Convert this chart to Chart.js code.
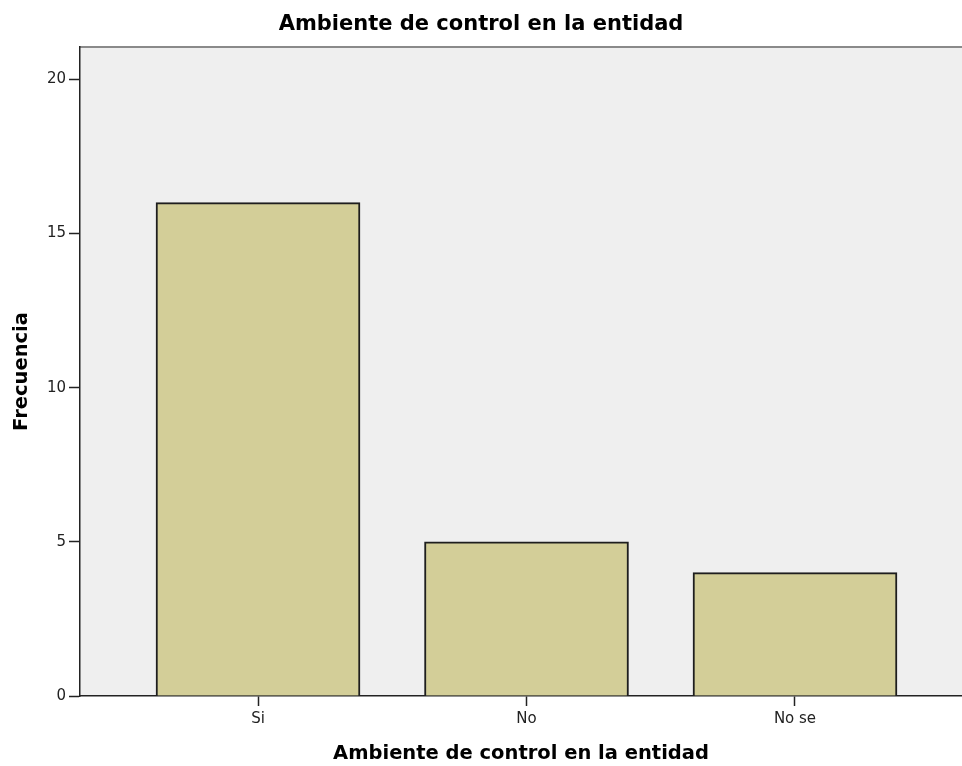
<!DOCTYPE html>
<html>
<head>
<meta charset="utf-8">
<script src="https://cdn.jsdelivr.net/npm/chart.js@4/dist/chart.umd.min.js"></script>
<style>
  html, body { margin: 0; padding: 0; background: #ffffff; }
  #wrap { width: 962px; height: 766px; }
</style>
</head>
<body>
<div id="wrap"><canvas id="c" width="962" height="766"></canvas></div>
<script>
const chartTitle = "Ambiente de control en la entidad";
const xAxisTitle = "Ambiente de control en la entidad";
const yAxisTitle = "Frecuencia";
const categories = ["Si", "No", "No se"];
const frequencies = [16, 5, 4];
const yTickValues = [0, 5, 10, 15, 20];

const bgPlugin = {
  id: 'plotBg',
  beforeDraw(chart) {
    const { ctx, chartArea: a } = chart;
    ctx.save();
    ctx.fillStyle = '#EFEFEF';
    ctx.fillRect(a.left, a.top, a.right - a.left, a.bottom - a.top);
    ctx.strokeStyle = '#8a8a8a';
    ctx.lineWidth = 2;
    ctx.beginPath();
    ctx.moveTo(a.left, a.top);
    ctx.lineTo(a.right, a.top);
    ctx.stroke();
    ctx.restore();
  }
};

new Chart(document.getElementById('c'), {
  type: 'bar',
  data: {
    datasets: [{
      data: categories.map((c, i) => ({ x: i, y: frequencies[i] })),
      backgroundColor: '#D3CE98',
      borderColor: '#1e1e1e',
      borderWidth: 2,
      barThickness: 204
    }]
  },
  options: {
    responsive: false,
    animation: false,
    devicePixelRatio: 1,
    layout: { padding: 0 },
    plugins: {
      legend: { display: false },
      tooltip: { enabled: false },
      title: {
        display: true,
        text: chartTitle,
        color: '#000',
        font: { family: 'DejaVu Sans', size: 21, weight: 'bold', lineHeight: 1.2 },
        padding: { top: 11.5, bottom: 10.3 }
      }
    },
    scales: {
      x: {
        type: 'linear',
        min: -0.663,
        max: 2.622,
        offset: false,
        afterBuildTicks(scale) { scale.ticks = categories.map((c, i) => ({ value: i })); },
        afterFit(scale) { scale.height = 70; },
        ticks: {
          autoSkip: false,
          maxRotation: 0,
          padding: 4,
          color: '#222',
          font: { family: 'DejaVu Sans', size: 15 },
          callback: (v) => categories[v]
        },
        grid: { drawOnChartArea: false, drawTicks: true, tickLength: 10, tickColor: '#222', tickWidth: 1.5, offset: false },
        border: { display: true, color: '#222', width: 1.5 },
        title: {
          display: true,
          text: xAxisTitle,
          color: '#000',
          font: { family: 'DejaVu Sans', size: 19.5, weight: 'bold', lineHeight: 1.2 },
          padding: { top: 0, bottom: 0.3 }
        }
      },
      y: {
        min: 0,
        max: 21.05,
        afterBuildTicks(scale) { scale.ticks = yTickValues.map(v => ({ value: v })); },
        afterFit(scale) { scale.width = 80; },
        ticks: {
          padding: 3,
          color: '#222',
          font: { family: 'DejaVu Sans', size: 15 }
        },
        grid: { drawOnChartArea: false, drawTicks: true, tickLength: 11, tickColor: '#222', tickWidth: 1.5 },
        border: { display: true, color: '#222', width: 1.5 },
        title: {
          display: true,
          text: yAxisTitle,
          color: '#000',
          font: { family: 'DejaVu Sans', size: 19.5, weight: 'bold', lineHeight: 1.2 },
          padding: { top: 10, bottom: 0 }
        }
      }
    }
  },
  plugins: [bgPlugin]
});
</script>
</body>
</html>
